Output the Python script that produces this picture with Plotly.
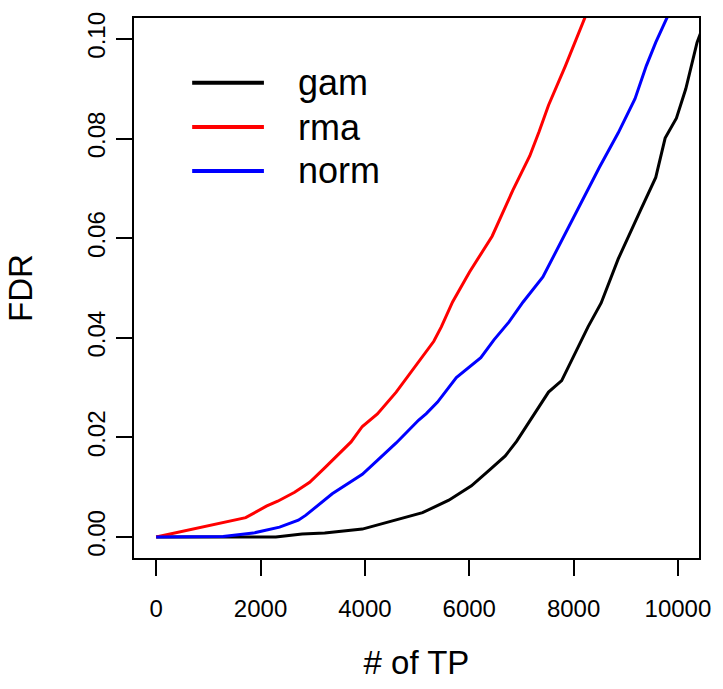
import plotly.graph_objects as go

# values
series_names = ["gam", "rma", "norm"]
series_colors = ["black", "red", "blue"]

gam_tp = [0, 2293, 2797, 3230, 3951, 4384, 5105, 5609, 6042, 6402, 6691, 6907, 7268, 7520, 7772,
          8061, 8277, 8529, 8854, 9286, 9575, 9755, 9971, 10151, 10367, 10500]
gam_fdr = [0, 0, 0.0006, 0.0008, 0.0016, 0.0028, 0.0049, 0.0074, 0.0103, 0.0136, 0.0163, 0.0192,
           0.0251, 0.0291, 0.0314, 0.0376, 0.0422, 0.0470, 0.0558, 0.0657, 0.0722, 0.0801, 0.0841,
           0.0900, 0.0993, 0.1030]

rma_tp = [0, 1716, 2112, 2329, 2653, 2942, 3230, 3518, 3735, 3951, 4240, 4600, 4960, 5321, 5465,
          5681, 6006, 6439, 6835, 7160, 7340, 7520, 7844, 8025, 8205, 8400]
rma_fdr = [0, 0.0039, 0.0062, 0.0072, 0.0090, 0.0110, 0.0139, 0.0169, 0.0191, 0.0222, 0.0247,
           0.0291, 0.0343, 0.0393, 0.0422, 0.0472, 0.0532, 0.0604, 0.0696, 0.0765, 0.0814, 0.0867,
           0.0946, 0.0993, 0.1039, 0.1090]

norm_tp = [0, 1283, 1860, 2365, 2725, 2870, 3374, 3951, 4240, 4600, 5032, 5177, 5393, 5753, 6222,
           6474, 6763, 7033, 7412, 7880, 8061, 8493, 8854, 9178, 9394, 9575, 9776, 9950]
norm_fdr = [0, 0.0001, 0.0008, 0.0020, 0.0034, 0.0044, 0.0087, 0.0126, 0.0154, 0.0189, 0.0235,
            0.0248, 0.0271, 0.0320, 0.0360, 0.0396, 0.0432, 0.0472, 0.0522, 0.0617, 0.0653, 0.0742,
            0.0811, 0.0880, 0.0946, 0.0993, 0.1039, 0.1080]

x_ticks = [0, 2000, 4000, 6000, 8000, 10000]
y_ticks = [0.00, 0.02, 0.04, 0.06, 0.08, 0.10]
y_tick_text = ["0.00", "0.02", "0.04", "0.06", "0.08", "0.10"]

# legend rows (data coordinates)
legend_y = [0.0912, 0.0823, 0.0735]

FONT = "Liberation Sans, Arial, sans-serif"

fig = go.Figure()
for xs, ys, name, col in [(gam_tp, gam_fdr, series_names[0], series_colors[0]),
                          (rma_tp, rma_fdr, series_names[1], series_colors[1]),
                          (norm_tp, norm_fdr, series_names[2], series_colors[2])]:
    fig.add_trace(go.Scatter(x=xs, y=ys, mode="lines", name=name,
                             line=dict(color=col, width=3), showlegend=False))

# hand-made legend like R's legend(bty="n")
for name, col, ly in zip(series_names, series_colors, legend_y):
    fig.add_shape(type="line", xref="x", yref="y", x0=690, x1=2065, y0=ly, y1=ly,
                  line=dict(color=col, width=4))
    fig.add_annotation(x=2680, y=ly, xref="x", yref="y", text=name, showarrow=False,
                       xanchor="left", yanchor="middle",
                       font=dict(family=FONT, size=36, color="black"))

axis_common = dict(showline=True, linecolor="black", linewidth=1.5, mirror=True,
                   ticks="outside", ticklen=16, tickwidth=1.5, tickcolor="black",
                   showgrid=False, zeroline=False,
                   tickfont=dict(family=FONT, size=24, color="black"))

fig.update_xaxes(range=[-425, 10404], tickvals=x_ticks, ticktext=[str(v) for v in x_ticks],
                 title=dict(text="# of TP", font=dict(family=FONT, size=33, color="black"),
                            standoff=30),
                 ticklabelstandoff=12, **axis_common)
fig.update_yaxes(range=[-0.0042, 0.1042], tickvals=y_ticks, ticktext=y_tick_text,
                 tickangle=-90,
                 title=dict(text="FDR", font=dict(family=FONT, size=33, color="black"),
                            standoff=40),
                 ticklabelstandoff=2, **axis_common)

fig.update_layout(width=723, height=689, plot_bgcolor="white", paper_bgcolor="white",
                  margin=dict(l=134, r=20, t=13, b=131),
                  font=dict(family=FONT, color="black"))

# page body has a default 8px margin which shifts the whole chart
fig.write_html("out.html", config={"displayModeBar": False},
               post_script="document.body.style.margin='0';")
